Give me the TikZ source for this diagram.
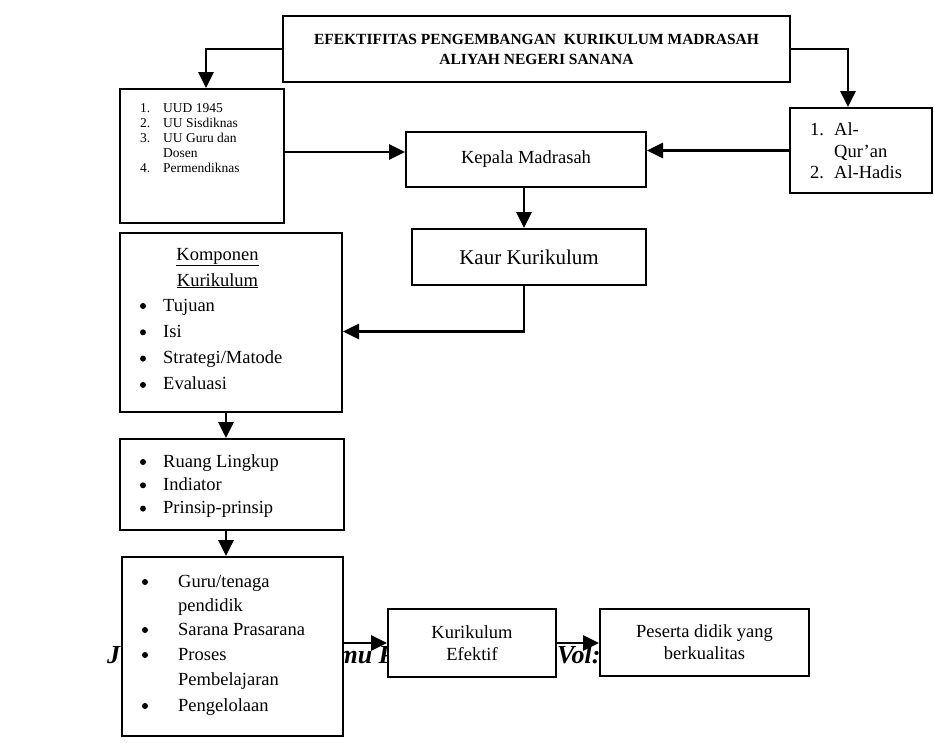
\documentclass[tikz,border=0pt]{standalone}
\usepackage{fontspec}
\setmainfont{Liberation Serif}
\usetikzlibrary{arrows.meta}

\begin{document}
\begin{tikzpicture}[x=1pt, y=-1pt,
  kotak/.style={draw, line width=2pt, fill=white, inner sep=0pt, anchor=north west},
  panah/.style={line width=2.8pt, -{Triangle[length=16pt,width=15pt]}},
  isi/.style={anchor=base west, inner sep=0pt, font=\fontsize{18.5}{21.5}\selectfont},
  kecil/.style={anchor=base west, inner sep=0pt, font=\fontsize{13.5}{15}\selectfont},
  titik/.style={circle, fill, inner sep=0pt, minimum size=6pt},
  tengah/.style={anchor=base, inner sep=0pt, font=\fontsize{18.5}{21.5}\selectfont}]
\useasboundingbox (0,0) rectangle (934,742);

% kepala halaman di belakang kotak
\node[anchor=base west, inner sep=0pt, font=\fontsize{26}{28}\selectfont\bfseries\itshape] (hdrA) at (107,663) {Juanga: Jurnal};
\node[anchor=base west, inner sep=0pt, font=\fontsize{26}{28}\selectfont\bfseries\itshape] (hdrB) at (320,663) {Ilmu Pengetahuan};
\node[anchor=base west, inner sep=0pt, font=\fontsize{26}{28}\selectfont\bfseries\itshape] (hdrC) at (557,663) {Vol:};

% kotak
\node[kotak, minimum width=507pt, minimum height=66pt, align=center,
  font=\fontsize{15.5}{20}\selectfont\bfseries] (judul) at (282,15)
  {EFEKTIFITAS PENGEMBANGAN\ \ KURIKULUM MADRASAH\\ALIYAH NEGERI SANANA};
\node[kotak, minimum width=164pt, minimum height=134pt] (dasar) at (119,88) {};
\node[kotak, minimum width=142pt, minimum height=85pt] (sumber) at (789,107) {};
\node[kotak, minimum width=240pt, minimum height=55pt, font=\fontsize{18.5}{21.5}\selectfont] (kepala) at (405,131) {Kepala Madrasah};
\node[kotak, minimum width=234pt, minimum height=56pt, font=\fontsize{21}{24}\selectfont] (kaur) at (411,228) {Kaur Kurikulum};
\node[kotak, minimum width=222pt, minimum height=179pt] (komponen) at (119,232) {};
\node[kotak, minimum width=224pt, minimum height=91pt] (ruang) at (119,438) {};
\node[kotak, minimum width=221pt, minimum height=179pt] (guru) at (121,556) {};
\node[kotak, minimum width=168pt, minimum height=68pt, align=center, font=\fontsize{18.5}{21.5}\selectfont] (efektif) at (387,608) {Kurikulum\\Efektif};
\node[kotak, minimum width=209pt, minimum height=67pt, align=center, font=\fontsize{18.5}{22}\selectfont] (peserta) at (599,608) {Peserta didik yang\\berkualitas};

% isi kotak dasar hukum
\foreach \n/\t [count=\i from 0] in {1./UUD 1945, 2./UU Sisdiknas, 3./UU Guru dan, /Dosen, 4./Permendiknas} {
  \node[kecil] (dasarN\i) at (140,{112+15.2*\i}) {\n};
  \node[kecil] (dasarT\i) at (163,{112+15.2*\i}) {\t};
}

% isi kotak sumber
\node[isi] (sumberN1) at (810,135) {1.};
\node[isi] (sumberT1) at (834,135) {Al-};
\node[isi] (sumberT2) at (834,157) {Qur’an};
\node[isi] (sumberN2) at (810,178) {2.};
\node[isi] (sumberT3) at (834,178) {Al-Hadis};

% komponen kurikulum
\node[tengah] (kompA) at (217.5,260) {\underline{Komponen}};
\node[tengah] (kompB) at (217.5,286) {\underline{Kurikulum}};
\foreach \t [count=\i from 0] in {Tujuan, Isi, {Strategi/Matode}, Evaluasi} {
  \node[titik] (kompP\i) at (143,{306+26.3*\i}) {};
  \node[isi] (kompT\i) at (163,{311+26.3*\i}) {\t};
}

% ruang lingkup
\foreach \t [count=\i from 0] in {Ruang Lingkup, Indiator, Prinsip-prinsip} {
  \node[titik] (ruangP\i) at (143,{462+23.3*\i}) {};
  \node[isi] (ruangT\i) at (163,{467+23.3*\i}) {\t};
}

% guru dan sarana
\foreach \y [count=\i] in {587,635,660,711}
  \node[titik] (guruP\i) at (145,\y-5) {};
\foreach \y/\t [count=\i] in {587/{Guru/tenaga}, 611/pendidik, 635/Sarana Prasarana, 660/Proses, 685/Pembelajaran, 711/Pengelolaan}
  \node[isi] (guruT\i) at (178,\y) {\t};

% panah
\draw[panah] (judul.west) -| ([xshift=4pt]dasar.north);
\draw[panah] (judul.east) -| ([xshift=-13pt]sumber.north);
\draw[panah] ([yshift=4pt]dasar.east) -- ([yshift=4pt]dasar.east -| kepala.west);
\draw[panah] (sumber.west) -- (sumber.west -| kepala.east);
\draw[panah] ([xshift=-2pt]kepala.south) -- ([xshift=-2pt]kepala.south |- kaur.north);
\draw[panah] ([xshift=-5pt]kaur.south) |- ([yshift=-9pt]komponen.east);
\draw[panah] ([xshift=-5pt]komponen.south) -- ([xshift=-5pt]komponen.south |- ruang.north);
\draw[panah] ([xshift=-6pt]ruang.south) -- ([xshift=-6pt]ruang.south |- guru.north);
\draw[panah] (efektif.west -| guru.east) -- (efektif.west);
\draw[panah] (efektif.east) -- (efektif.east -| peserta.west);
\end{tikzpicture}
\end{document}
